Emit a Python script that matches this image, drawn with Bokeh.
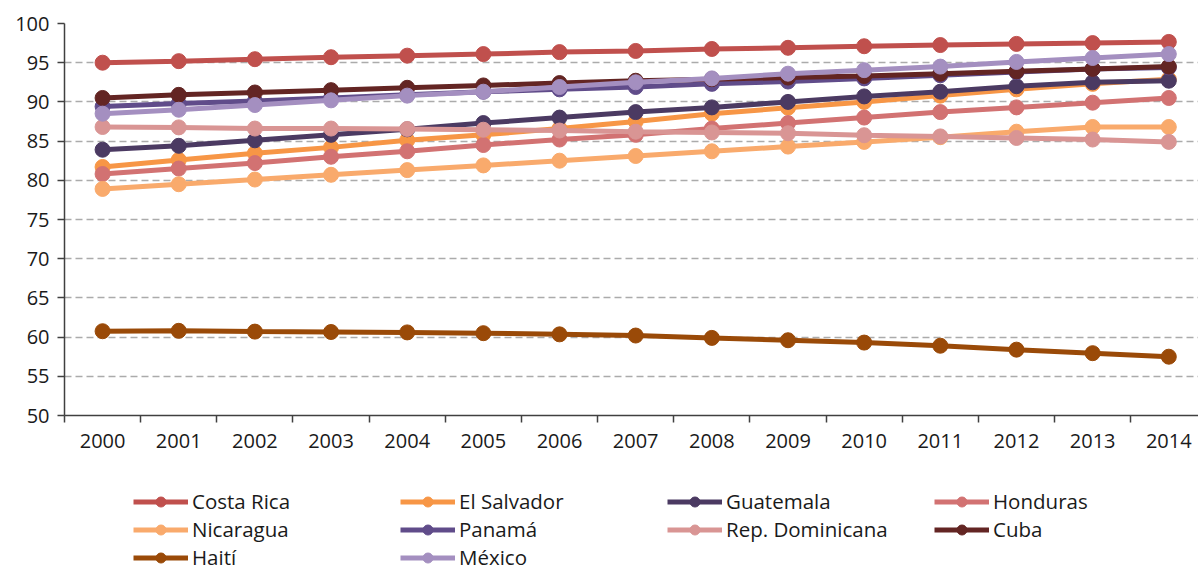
from bokeh.plotting import figure
from bokeh.models import Range1d, FixedTicker, Legend, LegendItem
from bokeh.layouts import column
from bokeh.embed import file_html
from bokeh.resources import INLINE

years = list(range(2000, 2015))

costa_rica = [95.0, 95.2, 95.45, 95.7, 95.9, 96.1, 96.35, 96.5, 96.75, 96.9, 97.1, 97.25, 97.4, 97.5, 97.65]
el_salvador = [81.7, 82.6, 83.45, 84.2, 85.1, 85.8, 86.6, 87.5, 88.5, 89.25, 90.0, 90.8, 91.6, 92.3, 92.9]
guatemala = [83.9, 84.4, 85.1, 85.8, 86.5, 87.3, 88.0, 88.7, 89.3, 90.0, 90.7, 91.3, 92.0, 92.5, 92.7]
honduras = [80.8, 81.5, 82.2, 83.0, 83.7, 84.5, 85.2, 85.8, 86.6, 87.3, 88.0, 88.7, 89.3, 89.9, 90.5]
nicaragua = [78.9, 79.5, 80.1, 80.7, 81.3, 81.9, 82.5, 83.1, 83.7, 84.3, 84.9, 85.5, 86.2, 86.8, 86.8]
panama = [89.4, 89.8, 90.1, 90.5, 90.9, 91.3, 91.6, 91.9, 92.3, 92.6, 93.0, 93.4, 93.8, 94.2, 94.4]
rep_dominicana = [86.8, 86.75, 86.6, 86.6, 86.55, 86.45, 86.35, 86.2, 86.1, 86.0, 85.75, 85.6, 85.4, 85.2, 84.9]
cuba = [90.5, 90.9, 91.2, 91.5, 91.8, 92.1, 92.4, 92.7, 92.9, 93.1, 93.3, 93.6, 93.9, 94.2, 94.5]
haiti = [60.75, 60.8, 60.7, 60.65, 60.6, 60.5, 60.35, 60.2, 59.9, 59.6, 59.3, 58.9, 58.4, 57.95, 57.5]
mexico = [88.5, 89.0, 89.6, 90.2, 90.8, 91.3, 91.9, 92.5, 93.0, 93.6, 94.05, 94.5, 95.1, 95.6, 96.1]

names = ["Costa Rica", "El Salvador", "Guatemala", "Honduras", "Nicaragua",
         "Panamá", "Rep. Dominicana", "Cuba", "Haití", "México"]
series = [costa_rica, el_salvador, guatemala, honduras, nicaragua,
          panama, rep_dominicana, cuba, haiti, mexico]
colors = ["#C0504D", "#F79646", "#4B3A62", "#D27272", "#F9AA6C",
          "#604C8A", "#D99594", "#632523", "#9A4A08", "#A48FC0"]

y_ticks = list(range(50, 101, 5))

FONT = "Open Sans"
W = 1198
H_MAIN = 462
H_LEG = 571 - H_MAIN

p = figure(width=W, height=H_MAIN, output_backend="svg", toolbar_location=None,
           x_range=Range1d(1999.5, 2014.39), y_range=Range1d(50, 100),
           min_border_left=64, min_border_top=23, min_border_bottom=H_MAIN - 415,
           min_border_right=0)
p.outline_line_color = None
p.xgrid.visible = False
p.ygrid.grid_line_color = "#ababab"
p.ygrid.grid_line_dash = "7 4"
p.ygrid.grid_line_width = 1.5

p.xaxis.ticker = FixedTicker(ticks=years, minor_ticks=[y - 0.5 for y in years] + [2014.5])
p.xaxis.major_tick_out = 0
p.xaxis.major_tick_in = 0
p.xaxis.minor_tick_out = 7
p.xaxis.minor_tick_in = 0
p.xaxis.minor_tick_line_color = "#404040"
p.xaxis.minor_tick_line_width = 1.5
p.xaxis.major_label_standoff = 11

p.yaxis.ticker = FixedTicker(ticks=y_ticks, minor_ticks=[])
p.yaxis.major_tick_out = 7
p.yaxis.major_tick_in = 0
p.yaxis.major_label_standoff = 8

for ax in (p.xaxis[0], p.yaxis[0]):
    ax.axis_line_color = "#404040"
    ax.axis_line_width = 1.5
    ax.major_tick_line_color = "#404040"
    ax.major_tick_line_width = 1.5
    ax.major_label_text_font = FONT
    ax.major_label_text_font_size = "20px"
    ax.major_label_text_color = "#1a1a1a"

for name, vals, col in zip(names, series, colors):
    p.line(years, vals, line_color=col, line_width=5)
    p.scatter(years, vals, size=15, fill_color=col, line_color=col)

# legend panel below the chart (its own ranges keep the series out of view)
q = figure(width=W, height=H_LEG, output_backend="svg", toolbar_location=None,
           x_range=Range1d(0, 1), y_range=Range1d(0, 1),
           x_axis_location=None, y_axis_location=None,
           min_border=0)
q.outline_line_color = None
q.grid.visible = False

items = []
for name, vals, col in zip(names, series, colors):
    ln = q.line(years, vals, line_color=col, line_width=5)
    sc = q.scatter(years, vals, size=10, fill_color=col, line_color=col)
    items.append(LegendItem(label=name, renderers=[ln, sc]))

legend = Legend(items=items, orientation="horizontal", ncols=4,
                location=(69, 0), glyph_width=55, glyph_height=25,
                label_standoff=4, label_width=208, spacing=0, padding=0, margin=0,
                label_text_font=FONT, label_text_font_size="20.5px",
                label_text_color="#1a1a1a", border_line_color=None,
                background_fill_alpha=0)
q.add_layout(legend, "center")

layout = column(p, q, spacing=0)
open("out.html", "w").write(file_html(layout, INLINE))
